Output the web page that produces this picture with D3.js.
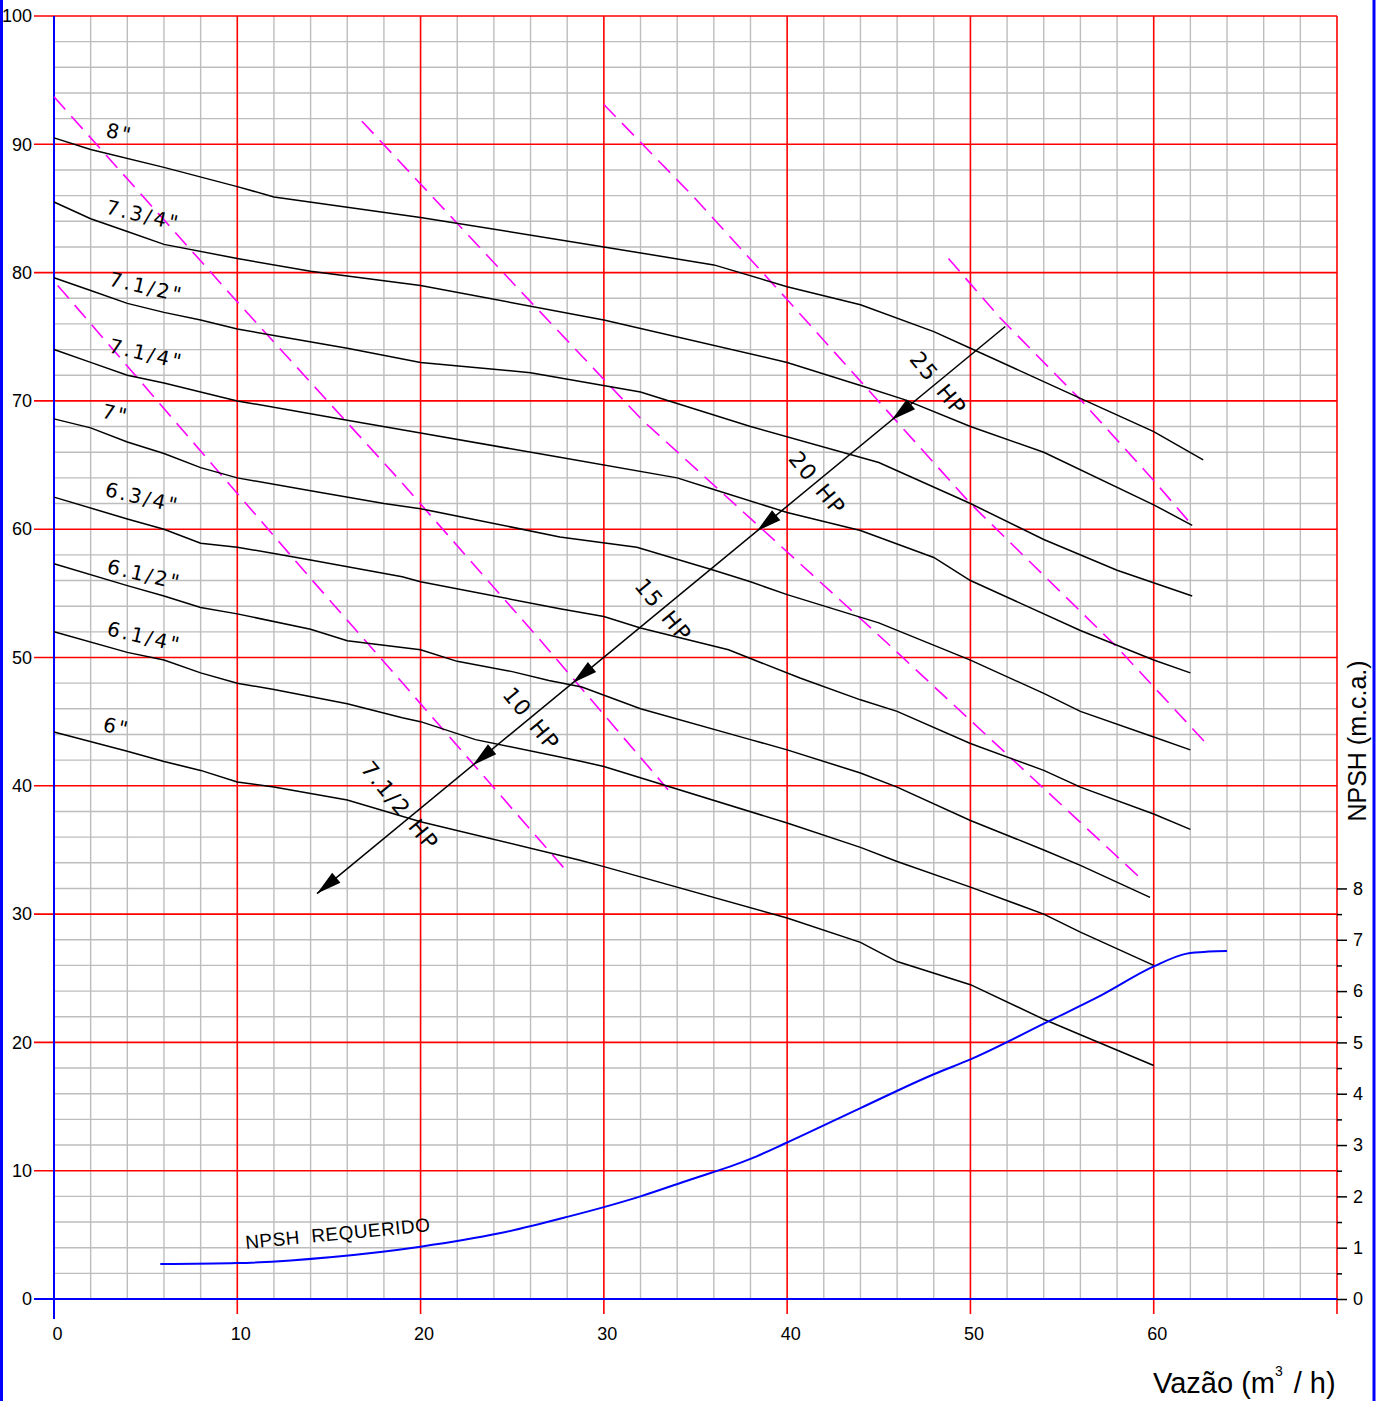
<!DOCTYPE html>
<html><head><meta charset="utf-8">
<script src="https://cdn.jsdelivr.net/npm/d3@7"></script>
<style>body{margin:0;background:#fff}svg{display:block}</style>
</head><body>
<script>
// ---------- data ----------
const xTicks = [0, 10, 20, 30, 40, 50, 60];
const yTicks = [0, 10, 20, 30, 40, 50, 60, 70, 80, 90, 100];
const npshTicks = [0, 1, 2, 3, 4, 5, 6, 7, 8];
const npshMinorTicks = [0.5, 1.5, 2.5, 3.5, 4.5, 5.5, 6.5, 7.5];

const curve_8 = [[0,90.5],[2,89.6],[6,88.2],[10,86.7],[12,85.9],[16,85.1],[20,84.3],[30,82.0],[36,80.6],[40,78.9],[44,77.5],[48,75.4],[50,74.1],[56,70.2],[60,67.6],[62.7,65.4]];
const curve_7_34 = [[0,85.5],[2,84.2],[4,83.2],[6,82.2],[10,81.1],[14,80.1],[20,79.0],[30,76.3],[40,73.0],[44,71.2],[46.4,70.1],[50,68.0],[54,66.0],[60,61.9],[62.1,60.3]];
const curve_7_12 = [[0,79.6],[2,78.6],[4,77.6],[6,76.9],[8,76.3],[10,75.6],[12,75.1],[16,74.1],[20,73.0],[26,72.2],[32,70.7],[38,68.0],[45,65.2],[50,62.0],[54,59.2],[58,56.8],[62.1,54.8]];
const curve_7_14 = [[0,74.0],[2,73.0],[4,72.0],[6,71.4],[8,70.7],[10,70.0],[14,69.0],[16,68.5],[20,67.5],[27.6,65.6],[34,64.0],[36,63.1],[40,61.3],[44,59.9],[48,57.8],[50,56.0],[56,52.1],[60,49.8],[62,48.8]];
const curve_7 = [[0,68.6],[2,67.9],[4,66.8],[6,65.9],[8,64.8],[10,64.0],[14,63.0],[18,62.0],[20,61.6],[27.6,59.4],[31.8,58.6],[36,56.8],[38,55.9],[40,54.9],[45,52.7],[50,49.8],[54,47.2],[56,45.8],[60,43.8],[62,42.8]];
const curve_6_34 = [[0,62.5],[4,60.8],[6,60.0],[8,58.9],[10,58.6],[12,58.1],[14,57.6],[19,56.3],[20,55.9],[27.6,53.8],[30,53.2],[32,52.3],[36.8,50.6],[40.7,48.4],[44,46.7],[46,45.8],[50,43.3],[54,41.2],[56,39.9],[60,37.8],[62,36.6]];
const curve_6_12 = [[0,57.3],[4,55.6],[6,54.8],[8,53.9],[10,53.4],[14,52.2],[16,51.3],[20,50.6],[22,49.7],[25,48.9],[27,48.2],[28.8,47.7],[32,46.0],[38,43.6],[40,42.8],[44,41.0],[46,39.9],[50,37.3],[54,35.0],[56,33.8],[59.8,31.3]];
const curve_6_14 = [[0,52.0],[4,50.4],[6,49.8],[8,48.8],[10,48.0],[12,47.5],[16,46.4],[19,45.3],[20,45.0],[23,43.6],[28.8,41.9],[30,41.5],[40,37.1],[44,35.2],[46,34.1],[50,32.1],[54,30.0],[56,28.6],[60,26.0]];
const curve_6 = [[0,44.2],[4,42.7],[6,41.9],[8,41.2],[10,40.3],[12,39.9],[16,38.9],[20,37.2],[28.7,34.2],[30,33.7],[40,29.7],[44,27.8],[46,26.3],[50,24.5],[54,21.8],[56,20.6],[60,18.2]];
const headCurves = [curve_8, curve_7_34, curve_7_12, curve_7_14, curve_7, curve_6_34, curve_6_12, curve_6_14, curve_6];

const curveLabels = ['8"', '7.3/4"', '7.1/2"', '7.1/4"', '7"', '6.3/4"', '6.1/2"', '6.1/4"', '6"'];
const curveLabelAt = [[2.78,90.6],[2.78,84.6],[2.95,79.0],[2.95,73.8],[2.56,68.7],[2.73,62.6],[2.84,56.6],[2.84,51.75],[2.62,44.3]];

const magenta_1 = [[0,93.7],[9.76,78.1],[18.87,63.8],[26.5,51.4],[33.5,39.7]];
const magenta_2 = [[0.2,79.0],[14.1,56.0],[18.9,48.2],[28.0,33.3]];
const magenta_3 = [[16.8,91.8],[24.9,79.4],[32.1,68.5],[45.1,51.6],[59.35,32.7]];
const magenta_4 = [[30.0,93.1],[34.9,85.9],[40.0,77.9],[50.0,62.0],[58.0,50.8],[62.8,43.4]];
const magenta_5 = [[48.8,81.1],[51.6,76.5],[56.0,70.1],[60.0,63.8],[62.1,60.3]];
const magentaLines = [magenta_1, magenta_2, magenta_3, magenta_4, magenta_5];

// NPSH required (right axis units, m.c.a.)
const npshReq = [[5.8,0.68],[10,0.70],[15.2,0.82],[20,1.02],[24.3,1.28],[28,1.6],[30,1.79],[32,2.0],[34.5,2.3],[38,2.73],[40,3.05],[44,3.72],[48,4.38],[50,4.67],[54.2,5.4],[57.1,5.91],[60,6.48],[61.8,6.73],[63,6.77],[64,6.78]];
const npshLabel = 'NPSH  REQUERIDO';
const npshLabelAt = [10.47, 0.975];

// power line
const hpLineStart = [51.9, 75.8];
const hpLineEnd = [14.35, 31.6];
const hpTipsX = [45.7, 38.35, 28.3, 22.85, 14.35];
const hpNumbers = ['25', '20', '15', '10', '7.1/2'];
const hpLabelX = [48.2, 41.6, 33.2, 26.0, 19.4];

// ---------- chart ----------
const W = 1383, H = 1401;
const svg = d3.select('body').append('svg').attr('width', W).attr('height', H);
const x = d3.scaleLinear().domain([0, 70]).range([54, 1337]);
const y = d3.scaleLinear().domain([0, 100]).range([1299, 16]);
const yN = d3.scaleLinear().domain([0, 25]).range([1299, 16]);
const RED = '#ff0000', BLUE = '#0000ff', GRAY = '#bdbdbd', MAG = '#ff00ff';
const tickFont = "'Liberation Sans', Arial, sans-serif";
const cadFont = "'DejaVu Sans', sans-serif";

// outer frame (left/right blue)
[1.5, 1374].forEach(px => svg.append('line').attr('x1', px).attr('x2', px).attr('y1', 0).attr('y2', H)
  .attr('stroke', BLUE).attr('stroke-width', 3));

// minor grid
const grid = svg.append('g');
const minorX = d3.range(2, 70, 2).filter(v => v % 10 !== 0);
const minorY = d3.range(2, 100, 2).filter(v => v % 10 !== 0);
grid.selectAll('.mx').data(minorX).join('line')
  .attr('x1', d => x(d)).attr('x2', d => x(d)).attr('y1', y(0)).attr('y2', y(100))
  .attr('stroke', GRAY).attr('stroke-width', 1.4);
grid.selectAll('.my').data(minorY).join('line')
  .attr('y1', d => y(d)).attr('y2', d => y(d)).attr('x1', x(0)).attr('x2', x(70))
  .attr('stroke', GRAY).attr('stroke-width', 1.4);
// major red grid
const majorX = d3.range(10, 71, 10);
const majorY = d3.range(10, 101, 10);
grid.selectAll('.Mx').data(majorX).join('line')
  .attr('x1', d => x(d)).attr('x2', d => x(d)).attr('y1', y(100)).attr('y2', y(0) + 15)
  .attr('stroke', RED).attr('stroke-width', 1.6);
grid.selectAll('.My').data(majorY).join('line')
  .attr('y1', d => y(d)).attr('y2', d => y(d)).attr('x1', x(0) - 20).attr('x2', x(70))
  .attr('stroke', RED).attr('stroke-width', 1.6);
// blue axes
svg.append('line').attr('x1', x(0)).attr('x2', x(0)).attr('y1', y(100)).attr('y2', y(0) + 20)
  .attr('stroke', BLUE).attr('stroke-width', 2);
svg.append('line').attr('x1', x(0) - 20).attr('x2', x(70)).attr('y1', y(0)).attr('y2', y(0))
  .attr('stroke', BLUE).attr('stroke-width', 2);

// axis labels
const left = svg.append('g').attr('transform', `translate(${x(0)},0)`)
  .call(d3.axisLeft(y).tickValues(yTicks).tickSize(0).tickPadding(22).tickFormat(d3.format('d')));
left.select('.domain').remove();
left.attr('font-family', tickFont).attr('font-size', 18);
left.selectAll('text').attr('fill', '#000');

const bottom = svg.append('g').attr('transform', `translate(0,${y(0)})`)
  .call(d3.axisBottom(x).tickValues(xTicks).tickSize(0).tickPadding(28).tickFormat(d3.format('d')));
bottom.select('.domain').remove();
bottom.attr('font-family', tickFont).attr('font-size', 18);
bottom.selectAll('text').attr('fill', '#000').attr('dx', 3);

const right = svg.append('g').attr('transform', `translate(${x(70)},0)`)
  .call(d3.axisRight(yN).tickValues(npshTicks).tickSize(10).tickPadding(6).tickFormat(d3.format('d')));
right.select('.domain').remove();
right.attr('font-family', tickFont).attr('font-size', 18);
right.selectAll('.tick line').attr('stroke', '#000').attr('stroke-width', 1.5);
right.selectAll('text').attr('fill', '#000');
const rightMinor = svg.append('g').attr('transform', `translate(${x(70)},0)`)
  .call(d3.axisRight(yN).tickValues(npshMinorTicks).tickSize(5).tickFormat(''));
rightMinor.select('.domain').remove();
rightMinor.selectAll('.tick line').attr('stroke', '#000').attr('stroke-width', 1.5);

// magenta dashed lines
const lin = d3.line().x(d => x(d[0])).y(d => y(d[1]));
svg.append('g').selectAll('path').data(magentaLines).join('path')
  .attr('d', lin).attr('fill', 'none').attr('stroke', MAG).attr('stroke-width', 1.6)
  .attr('stroke-dasharray', '17,9');

// head curves
svg.append('g').selectAll('path').data(headCurves).join('path')
  .attr('d', lin).attr('fill', 'none').attr('stroke', '#000').attr('stroke-width', 1.5);

// curve labels
svg.append('g').selectAll('text').data(curveLabels).join('text')
  .attr('transform', (d, i) => `translate(${x(curveLabelAt[i][0])},${y(curveLabelAt[i][1])}) rotate(13)`)
  .attr('font-family', cadFont).attr('font-size', 20).attr('letter-spacing', 2.5)
  .attr('fill', '#000').text(d => d);

// NPSH required curve
const linN = d3.line().x(d => x(d[0])).y(d => yN(d[1])).curve(d3.curveMonotoneX);
svg.append('path').datum(npshReq).attr('d', linN).attr('fill', 'none')
  .attr('stroke', BLUE).attr('stroke-width', 2);
svg.append('text')
  .attr('transform', `translate(${x(npshLabelAt[0])},${yN(npshLabelAt[1])}) rotate(-5.5)`)
  .attr('font-family', tickFont).attr('font-size', 19).attr('letter-spacing', 0.5)
  .style('white-space', 'pre').attr('fill', '#000').text(npshLabel);

// power (HP) line with arrows
const P0 = [x(hpLineEnd[0]), y(hpLineEnd[1])];
const P1 = [x(hpLineStart[0]), y(hpLineStart[1])];
const ddx = P1[0] - P0[0], ddy = P1[1] - P0[1], L = Math.hypot(ddx, ddy);
const u = [ddx / L, ddy / L];          // up-right direction
const nrm = [-u[1], u[0]];             // perpendicular (down-right)
const hpY = xv => hpLineEnd[1] + (xv - hpLineEnd[0]) / (hpLineStart[0] - hpLineEnd[0]) * (hpLineStart[1] - hpLineEnd[1]);
const hp = svg.append('g');
hp.append('line').attr('x1', P0[0]).attr('y1', P0[1]).attr('x2', P1[0]).attr('y2', P1[1])
  .attr('stroke', '#000').attr('stroke-width', 1.5);
hp.selectAll('polygon').data(hpTipsX).join('polygon')
  .attr('points', d => {
    const T = [x(d), y(hpY(d))];
    const B = [T[0] + 25 * u[0], T[1] + 25 * u[1]];
    return [T, [B[0] + 6.5 * nrm[0], B[1] + 6.5 * nrm[1]], [B[0] - 6.5 * nrm[0], B[1] - 6.5 * nrm[1]]]
      .map(p => p.join(',')).join(' ');
  }).attr('fill', '#000');
const ang = Math.atan2(nrm[1], nrm[0]) * 180 / Math.PI;
const hpLab = hp.selectAll('g.lab').data(hpNumbers).join('g')
  .attr('transform', (d, i) => `translate(${x(hpLabelX[i])},${y(hpY(hpLabelX[i]))}) rotate(${ang})`)
  .attr('font-family', cadFont).attr('font-size', 22).attr('letter-spacing', 1.5).attr('fill', '#000');
hpLab.append('text').attr('x', -5).attr('dy', '0.36em').attr('text-anchor', 'end').text(d => d);
hpLab.append('text').attr('x', 6).attr('dy', '0.36em').attr('text-anchor', 'start').text('HP');

// axis titles
const xt = svg.append('text').attr('x', 1153).attr('y', 1393)
  .attr('font-family', tickFont).attr('font-size', 29).attr('fill', '#000');
xt.append('tspan').text('Vazão (m');
xt.append('tspan').attr('font-size', 14).attr('dy', -17).text('3');
xt.append('tspan').attr('dy', 17).attr('dx', 11).text('/ h)');

svg.append('text').attr('transform', 'translate(1366,741) rotate(-90)')
  .attr('text-anchor', 'middle').attr('font-family', tickFont).attr('font-size', 25)
  .attr('fill', '#000').text('NPSH (m.c.a.)');
</script>
</body></html>
